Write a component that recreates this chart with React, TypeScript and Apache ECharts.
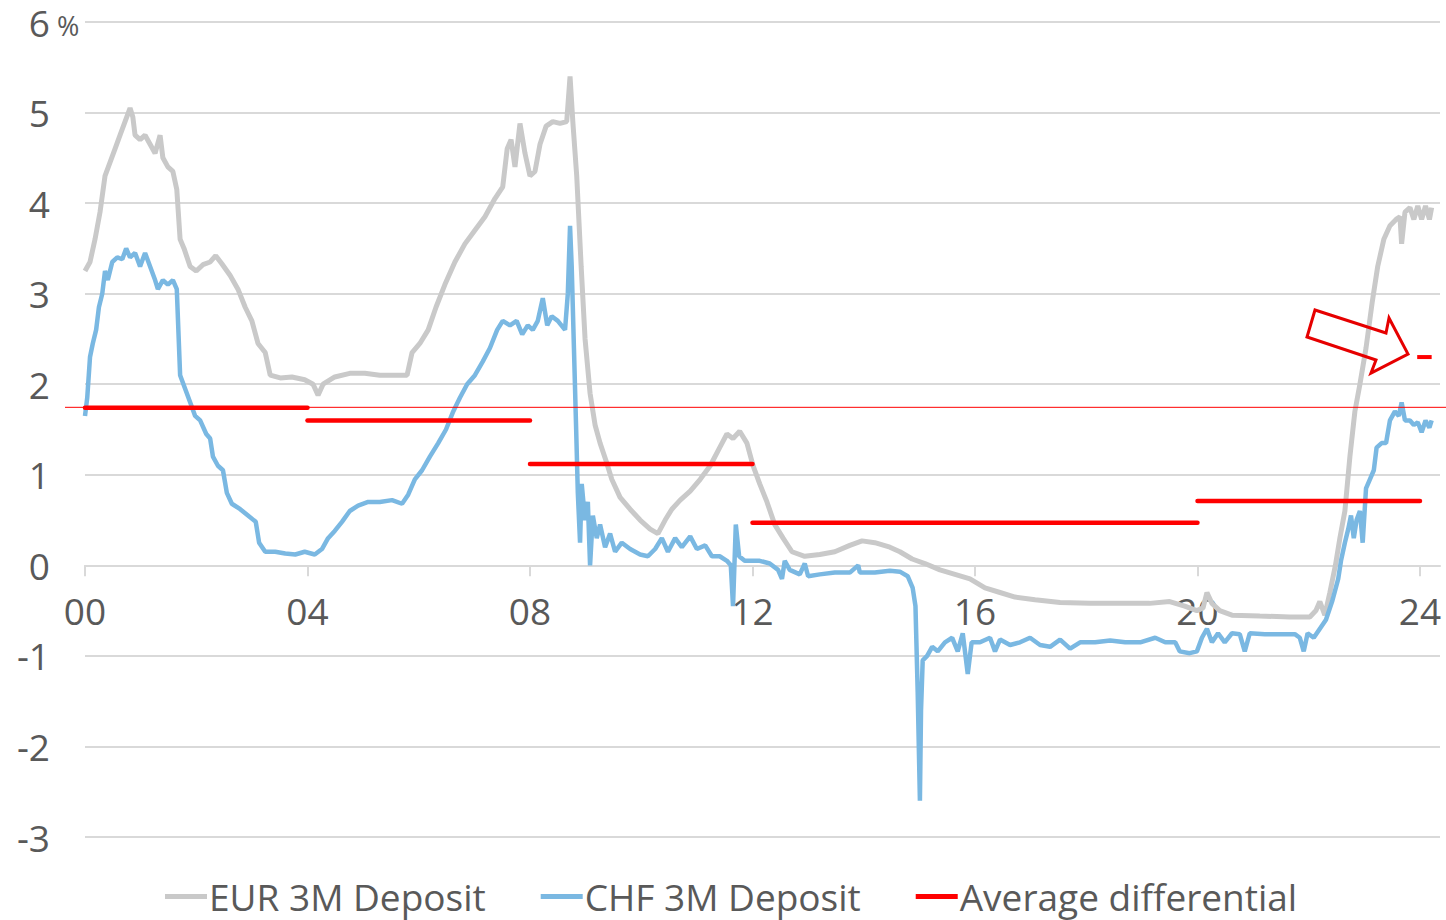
import React, { useEffect, useRef } from "react";
import * as echarts from "echarts";

// ---- data (decimal years) ----
const eurDates = [
  2000.0, 2000.09, 2000.18, 2000.27, 2000.36, 2000.45, 2000.54, 2000.63, 2000.72, 2000.81, 2000.86, 2000.9, 2000.99,
  2001.08, 2001.17, 2001.26, 2001.35, 2001.4, 2001.49, 2001.58, 2001.65, 2001.71, 2001.78, 2001.89, 2002.0, 2002.12,
  2002.25, 2002.35, 2002.46, 2002.61, 2002.75, 2002.88, 2003.0, 2003.11, 2003.24, 2003.33, 2003.51, 2003.72, 2003.95,
  2004.1, 2004.19, 2004.28, 2004.49, 2004.76, 2005.03, 2005.3, 2005.57, 2005.79, 2005.88, 2006.02, 2006.17, 2006.31,
  2006.47, 2006.65, 2006.83, 2007.01, 2007.19, 2007.37, 2007.51, 2007.59, 2007.66, 2007.73, 2007.82, 2007.91, 2008.0,
  2008.09, 2008.18, 2008.29, 2008.41, 2008.54, 2008.66, 2008.72, 2008.77, 2008.84, 2008.92, 2008.99, 2009.08, 2009.17,
  2009.26, 2009.37, 2009.47, 2009.62, 2009.8, 2009.98, 2010.16, 2010.3, 2010.43, 2010.55, 2010.7, 2010.88, 2011.06,
  2011.24, 2011.41, 2011.54, 2011.65, 2011.77, 2011.9, 2012.01, 2012.13, 2012.26, 2012.4, 2012.55, 2012.71, 2012.94,
  2013.21, 2013.48, 2013.75, 2013.97, 2014.2, 2014.47, 2014.65, 2014.87, 2015.1, 2015.37, 2015.64, 2015.91, 2016.18,
  2016.45, 2016.72, 2017.08, 2017.53, 2018.07, 2018.61, 2019.14, 2019.5, 2019.77, 2019.99, 2020.1, 2020.17, 2020.26,
  2020.4, 2020.62, 2021.12, 2021.66, 2022.02, 2022.13, 2022.2, 2022.29, 2022.38, 2022.48, 2022.56, 2022.65, 2022.74,
  2022.83, 2022.92, 2023.03, 2023.14, 2023.24, 2023.35, 2023.46, 2023.57, 2023.64, 2023.67, 2023.73, 2023.82, 2023.89,
  2023.96, 2024.03, 2024.1, 2024.17, 2024.21,
];
const eurValues = [
  3.25, 3.35, 3.6, 3.9, 4.3, 4.45, 4.6, 4.75, 4.9, 5.05, 4.95, 4.75, 4.7,
  4.75, 4.65, 4.55, 4.75, 4.5, 4.4, 4.35, 4.15, 3.6, 3.5, 3.3, 3.25, 3.32,
  3.35, 3.42, 3.33, 3.2, 3.05, 2.85, 2.7, 2.45, 2.35, 2.1, 2.07, 2.08, 2.05,
  2.0, 1.88, 2.0, 2.08, 2.12, 2.12, 2.1, 2.1, 2.1, 2.35, 2.45, 2.6, 2.85,
  3.1, 3.35, 3.55, 3.7, 3.85, 4.05, 4.18, 4.6, 4.7, 4.4, 4.88, 4.55, 4.3,
  4.35, 4.65, 4.85, 4.9, 4.88, 4.9, 5.4, 4.9, 4.3, 3.3, 2.5, 1.9, 1.55,
  1.35, 1.15, 0.95, 0.75, 0.62, 0.5, 0.4, 0.35, 0.5, 0.62, 0.72, 0.82, 0.95,
  1.1, 1.3, 1.45, 1.4, 1.48, 1.35, 1.1, 0.9, 0.7, 0.45, 0.3, 0.15, 0.1,
  0.12, 0.15, 0.22, 0.27, 0.25, 0.2, 0.15, 0.07, 0.02, -0.05, -0.1, -0.15, -0.25,
  -0.3, -0.35, -0.38, -0.41, -0.42, -0.42, -0.42, -0.4, -0.45, -0.5, -0.47, -0.3, -0.42,
  -0.5, -0.55, -0.56, -0.57, -0.57, -0.5, -0.4, -0.55, -0.3, 0.0, 0.3, 0.6, 1.2,
  1.7, 2.0, 2.4, 2.9, 3.3, 3.6, 3.75, 3.82, 3.85, 3.55, 3.9, 3.95, 3.82,
  3.97, 3.82, 3.97, 3.82, 3.95,
];

const chfDates = [
  2000.0, 2000.04, 2000.09, 2000.14, 2000.2, 2000.25, 2000.31, 2000.36, 2000.41, 2000.49, 2000.58, 2000.67, 2000.74,
  2000.81, 2000.9, 2000.99, 2001.08, 2001.17, 2001.26, 2001.31, 2001.4, 2001.49, 2001.58, 2001.65, 2001.71, 2001.8,
  2001.89, 2001.98, 2002.07, 2002.18, 2002.25, 2002.3, 2002.39, 2002.48, 2002.55, 2002.64, 2002.79, 2002.93, 2003.07,
  2003.13, 2003.24, 2003.42, 2003.6, 2003.78, 2003.95, 2004.13, 2004.26, 2004.37, 2004.49, 2004.62, 2004.76, 2004.91,
  2005.09, 2005.3, 2005.52, 2005.7, 2005.81, 2005.93, 2006.06, 2006.2, 2006.35, 2006.49, 2006.62, 2006.74, 2006.87,
  2007.01, 2007.15, 2007.28, 2007.41, 2007.51, 2007.64, 2007.76, 2007.86, 2007.96, 2008.05, 2008.14, 2008.23, 2008.31,
  2008.39, 2008.5, 2008.63, 2008.68, 2008.72, 2008.75, 2008.79, 2008.83, 2008.86, 2008.9, 2008.93, 2008.99, 2009.04,
  2009.08, 2009.13, 2009.2, 2009.26, 2009.35, 2009.44, 2009.53, 2009.65, 2009.8, 2009.98, 2010.12, 2010.25, 2010.37,
  2010.48, 2010.61, 2010.73, 2010.88, 2011.0, 2011.15, 2011.27, 2011.41, 2011.54, 2011.61, 2011.65, 2011.7, 2011.76,
  2011.86, 2011.99, 2012.13, 2012.31, 2012.46, 2012.53, 2012.58, 2012.67, 2012.85, 2012.94, 2013.0, 2013.21, 2013.48,
  2013.75, 2013.9, 2013.93, 2014.2, 2014.47, 2014.65, 2014.79, 2014.88, 2014.93, 2014.97, 2015.01, 2015.03, 2015.06,
  2015.14, 2015.23, 2015.33, 2015.46, 2015.59, 2015.69, 2015.78, 2015.87, 2015.94, 2016.09, 2016.27, 2016.36, 2016.45,
  2016.63, 2016.81, 2016.99, 2017.17, 2017.35, 2017.53, 2017.71, 2017.89, 2018.16, 2018.43, 2018.7, 2018.97, 2019.24,
  2019.42, 2019.6, 2019.68, 2019.86, 2019.99, 2020.08, 2020.17, 2020.26, 2020.37, 2020.49, 2020.62, 2020.76, 2020.85,
  2020.94, 2021.21, 2021.48, 2021.75, 2021.84, 2021.91, 2021.98, 2022.09, 2022.2, 2022.31, 2022.42, 2022.53, 2022.58,
  2022.65, 2022.71, 2022.76, 2022.81, 2022.86, 2022.92, 2022.97, 2023.03, 2023.1, 2023.17, 2023.22, 2023.31, 2023.39,
  2023.46, 2023.55, 2023.62, 2023.67, 2023.73, 2023.82, 2023.89, 2023.96, 2024.03, 2024.1, 2024.17, 2024.21,
];
const chfValues = [
  1.65, 1.85, 2.3, 2.45, 2.6, 2.85, 3.0, 3.25, 3.15, 3.35, 3.4, 3.38, 3.5,
  3.4, 3.45, 3.3, 3.45, 3.3, 3.15, 3.05, 3.15, 3.1, 3.15, 3.05, 2.1, 1.95,
  1.8, 1.65, 1.6, 1.45, 1.4, 1.2, 1.1, 1.05, 0.8, 0.68, 0.62, 0.55, 0.48,
  0.25, 0.15, 0.15, 0.13, 0.12, 0.15, 0.12, 0.18, 0.3, 0.38, 0.48, 0.6, 0.66,
  0.7, 0.7, 0.72, 0.68, 0.78, 0.95, 1.05, 1.2, 1.35, 1.5, 1.7, 1.85, 2.0,
  2.1, 2.25, 2.4, 2.6, 2.7, 2.65, 2.7, 2.55, 2.65, 2.6, 2.7, 2.95, 2.65,
  2.75, 2.7, 2.6, 3.0, 3.75, 3.3, 2.4, 1.5, 0.8, 0.25, 0.9, 0.5, 0.7,
  0.0, 0.55, 0.3, 0.45, 0.2, 0.35, 0.15, 0.25, 0.18, 0.12, 0.1, 0.18, 0.3,
  0.15, 0.3, 0.2, 0.32, 0.18, 0.22, 0.1, 0.1, 0.05, 0.0, -0.45, 0.45, 0.1,
  0.05, 0.05, 0.05, 0.02, -0.05, -0.15, 0.05, -0.05, -0.1, 0.02, -0.12, -0.1, -0.08,
  -0.08, 0.0, -0.08, -0.08, -0.06, -0.07, -0.12, -0.25, -0.45, -1.4, -2.6, -1.6, -1.05,
  -1.0, -0.9, -0.95, -0.85, -0.8, -0.95, -0.75, -1.2, -0.85, -0.85, -0.8, -0.95, -0.82,
  -0.88, -0.85, -0.8, -0.88, -0.9, -0.82, -0.92, -0.85, -0.85, -0.83, -0.85, -0.85, -0.8,
  -0.85, -0.85, -0.95, -0.97, -0.95, -0.8, -0.7, -0.85, -0.75, -0.85, -0.75, -0.76, -0.95,
  -0.75, -0.76, -0.76, -0.76, -0.8, -0.95, -0.75, -0.8, -0.7, -0.6, -0.4, -0.15, 0.05,
  0.25, 0.4, 0.55, 0.3, 0.5, 0.6, 0.25, 0.85, 0.95, 1.05, 1.3, 1.35, 1.35,
  1.6, 1.7, 1.65, 1.8, 1.6, 1.6, 1.55, 1.58, 1.47, 1.6, 1.52, 1.6,
];

// average differential per period
const avgStarts = [2000, 2004, 2008, 2012, 2020];
const avgEnds = [2004, 2008, 2012, 2020, 2024];
const avgValues = [1.74, 1.6, 1.12, 0.47, 0.71];
const longTermAverage = 1.745;
const currentDiffStart = 2023.95;
const currentDiffEnd = 2024.21;
const currentDiff = 2.3;

const xTicks = [2000, 2004, 2008, 2012, 2016, 2020, 2024];
const yMin = -3;
const yMax = 6;

const TEXT = "#595959";
const GRID = "#d9d9d9";
const FONT = "'Open Sans', 'Noto Sans', sans-serif";
const RED = "#ff0000";

const GRID_TOP = 22;
const GRID_BOTTOM = 83;
const HEIGHT = 920;

export default function App() {
  const ref = useRef<HTMLDivElement>(null);

  useEffect(() => {
    if (!ref.current) return;
    const chart = echarts.init(ref.current, undefined, { renderer: "svg" });

    const gridHeight = HEIGHT - GRID_TOP - GRID_BOTTOM;
    const zeroOffset = -(gridHeight * (0 - yMin)) / (yMax - yMin);

    const avgSeries = avgStarts.map((s, i) => ({
      name: "Average differential",
      type: "line",
      data: [
        [s, avgValues[i]],
        [avgEnds[i], avgValues[i]],
      ],
      symbol: "none",
      lineStyle: { color: RED, width: 4.5, cap: "round" },
      itemStyle: { color: RED },
      z: 5,
    }));

    chart.setOption({
      animation: false,
      textStyle: { fontFamily: FONT },
      grid: { left: 85, right: 6, top: GRID_TOP, bottom: GRID_BOTTOM },
      legend: {
        top: 873,
        left: 160,
        itemWidth: 42,
        itemHeight: 5,
        itemGap: 55,
        icon: "rect",
        textStyle: { fontSize: 37, color: TEXT, fontFamily: FONT, padding: [0, 0, 0, -3] },
        data: ["EUR 3M Deposit", "CHF 3M Deposit", "Average differential"],
      },
      xAxis: {
        type: "value",
        min: 2000,
        max: 2024.36,
        interval: 4,
        offset: zeroOffset,
        axisLine: { onZero: false, lineStyle: { color: GRID, width: 2 } },
        axisTick: { show: true, length: 11, lineStyle: { color: GRID, width: 2 }, customValues: xTicks },
        axisLabel: {
          color: TEXT,
          fontSize: 37,
          margin: 27,
          fontFamily: FONT,
          customValues: xTicks,
          formatter: (v: number) => String(Math.round(v) % 100).padStart(2, "0"),
        },
        splitLine: { show: false },
      },
      yAxis: {
        type: "value",
        min: yMin,
        max: yMax,
        interval: 1,
        axisLine: { show: false },
        axisTick: { show: false },
        axisLabel: { color: TEXT, fontSize: 37, margin: 35, fontFamily: FONT },
        splitLine: { lineStyle: { color: GRID, width: 2 } },
      },
      series: [
        {
          name: "EUR 3M Deposit",
          type: "line",
          data: eurDates.map((d, i) => [d, eurValues[i]]),
          symbol: "none",
          lineStyle: { color: "#c9c9c9", width: 5 },
          itemStyle: { color: "#c9c9c9" },
          z: 2,
        },
        {
          name: "CHF 3M Deposit",
          type: "line",
          data: chfDates.map((d, i) => [d, chfValues[i]]),
          symbol: "none",
          lineStyle: { color: "#7ab8e2", width: 4.5 },
          itemStyle: { color: "#7ab8e2" },
          z: 3,
        },
        ...avgSeries,
        {
          name: "Average differential",
          type: "line",
          data: [
            [currentDiffStart, currentDiff],
            [currentDiffEnd, currentDiff],
          ],
          symbol: "none",
          lineStyle: { color: RED, width: 4 },
          itemStyle: { color: RED },
          z: 5,
        },
      ],
    });

    const yAvg = chart.convertToPixel({ xAxisIndex: 0, yAxisIndex: 0 }, [2000, longTermAverage])[1];

    chart.setOption({
      graphic: [
        {
          type: "line",
          shape: { x1: 65, y1: yAvg, x2: 1446, y2: yAvg },
          style: { stroke: RED, lineWidth: 1 },
          z: 4,
        },
        {
          type: "polygon",
          shape: {
            points: [
              [1315, 310],
              [1386, 333],
              [1389, 318],
              [1408, 354],
              [1371, 373],
              [1376, 360],
              [1307, 337],
            ],
          },
          style: { fill: "none", stroke: "#e60000", lineWidth: 3 },
          z: 10,
        },
        {
          type: "text",
          x: 57,
          y: 12,
          style: { text: "%", fontSize: 27, fill: TEXT, fontFamily: FONT },
          z: 10,
        },
      ],
    });

    return () => chart.dispose();
  }, []);

  return (
    <div
      ref={ref}
      style={{ position: "absolute", left: 0, top: 0, width: 1446, height: 920 }}
    />
  );
}
